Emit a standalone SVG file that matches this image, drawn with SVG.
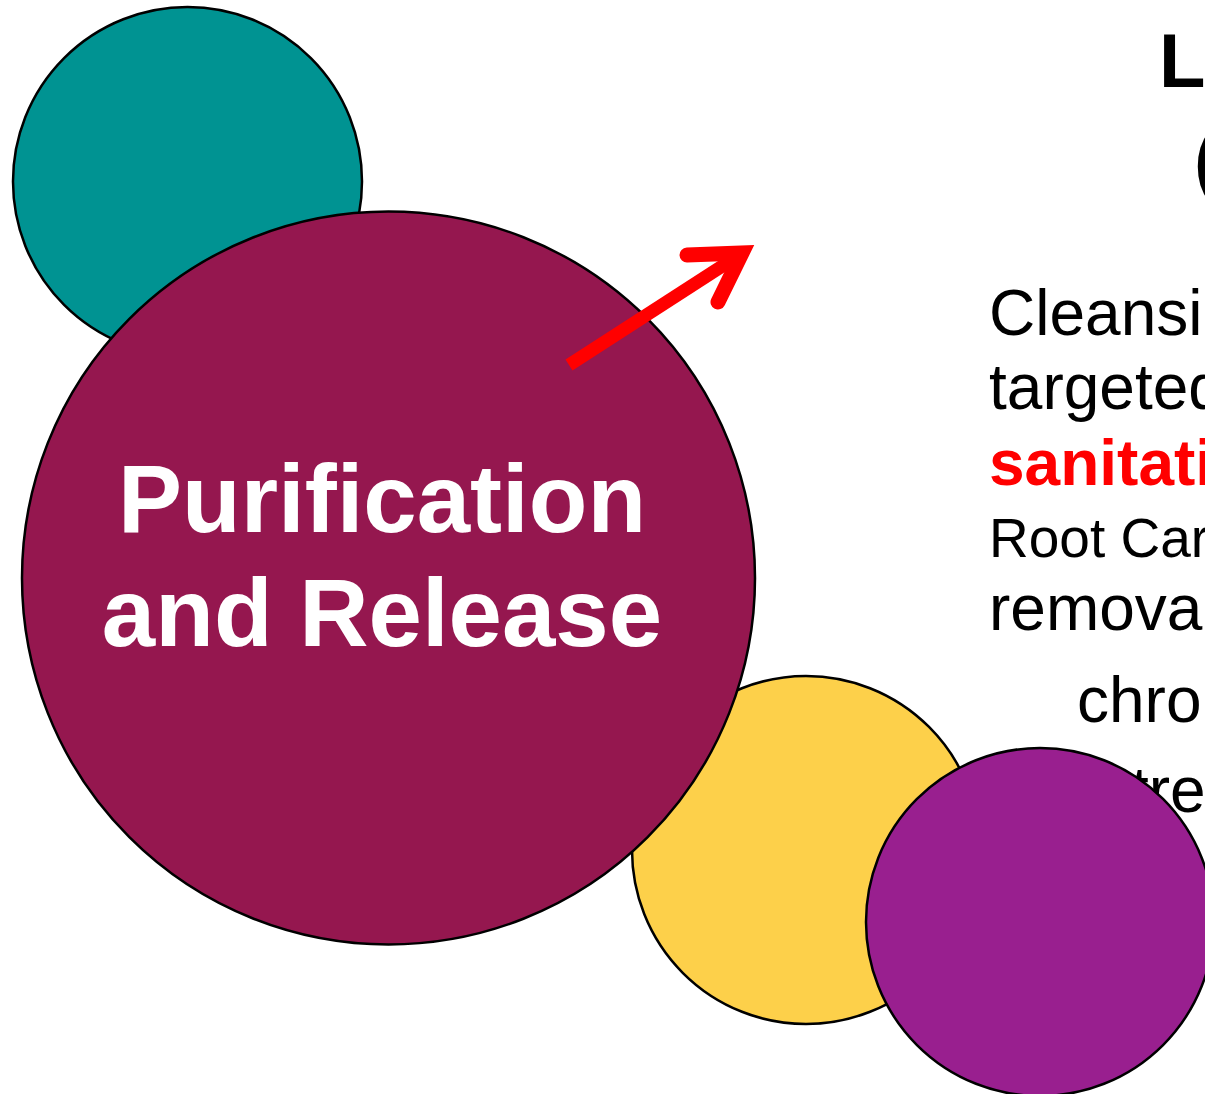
<svg xmlns="http://www.w3.org/2000/svg" width="1205" height="1094" viewBox="0 0 1205 1094">
<style>
.c{stroke:#000;stroke-width:2.5}
.w{font-family:"Liberation Sans",Arial,sans-serif;font-weight:bold;fill:#fff;font-size:96px;text-anchor:middle}
.t{font-family:"Liberation Sans",Arial,sans-serif;fill:#000;font-size:64px}
.b{font-weight:bold}
.h{font-size:76px}
</style>
<rect width="1205" height="1094" fill="#fff"/>
<g id="teal"><circle class="c" cx="187.5" cy="181.5" r="174.5" fill="#009392"/></g>
<g id="yellow"><circle class="c" cx="806" cy="850" r="174" fill="#FDD04A"/></g>
<g id="main">
<circle class="c" cx="388.5" cy="578" r="366.5" fill="#95174F"/>
<text class="w" x="382" y="532">Purification</text>
<text class="w" x="382" y="646">and Release</text>
</g>
<g id="connectors">
<line x1="569" y1="365" x2="744" y2="252" stroke="#FF0000" stroke-width="13"/>
<path d="M687,255 L742,253 L718,302" fill="none" stroke="#FF0000" stroke-width="15" stroke-linecap="round" stroke-linejoin="miter" stroke-miterlimit="10"/>
</g>
<g id="text">
<text class="t b h" x="1159" y="87">L</text>
<text class="t b h" x="1194" y="186">(</text>
<text class="t" x="989" y="335">Cleansi</text>
<text class="t" x="989" y="409">targeted</text>
<text class="t b" x="989" y="485" style="fill:#FF0000">sanitati</text>
<text class="t" x="989" y="557" style="font-size:55px">Root Car</text>
<text class="t" x="989" y="630">remova</text>
<text class="t" x="1077" y="722">chro</text>
<text class="t" x="1131" y="812">tre</text>
</g>
<g id="purple"><circle class="c" cx="1040" cy="922" r="174" fill="#991F8F"/></g>
</svg>
